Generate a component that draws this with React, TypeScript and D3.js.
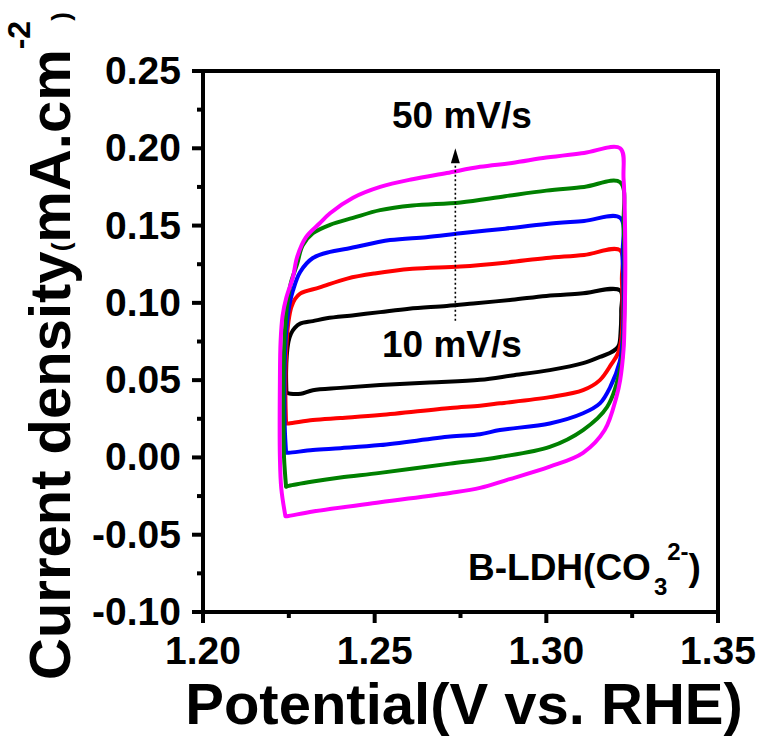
import React from "react";
import * as d3 from "d3";

type Pt = [number, number];

// Scan rates and colours (drawn in this order)
const scanRates = ["10 mV/s", "20 mV/s", "30 mV/s", "40 mV/s", "50 mV/s"];
const seriesColors = ["#000000", "#ff0000", "#0000ff", "#008000", "#ff00ff"];

// [potential (V vs RHE), current density (mA cm^-2)]
const cv10: Pt[] = [
  [1.2243, 0.042], [1.2242, 0.055], [1.2244, 0.066], [1.2249, 0.075], [1.2256, 0.08],
  [1.2268, 0.084], [1.2283, 0.0866], [1.232, 0.0882], [1.236, 0.09], [1.244, 0.092],
  [1.2516, 0.094], [1.26, 0.0962], [1.271, 0.098], [1.2787, 0.0996], [1.29, 0.102],
  [1.3, 0.1045], [1.31, 0.106], [1.3215, 0.108],
  [1.3218, 0.095], [1.3216, 0.08], [1.3212, 0.073], [1.3204, 0.0703], [1.3185, 0.0675],
  [1.3156, 0.065], [1.3107, 0.061], [1.301, 0.0565], [1.29, 0.053], [1.2807, 0.0502],
  [1.266, 0.0485], [1.2516, 0.0468], [1.24, 0.045], [1.232, 0.0435], [1.2285, 0.0412],
  [1.2255, 0.0412], [1.2243, 0.042],
];
const cv20: Pt[] = [
  [1.2242, 0.022], [1.224, 0.04], [1.2241, 0.06], [1.2244, 0.076], [1.2249, 0.088],
  [1.2257, 0.097], [1.2268, 0.1025], [1.2283, 0.106], [1.234, 0.11], [1.242, 0.1157],
  [1.25, 0.119], [1.261, 0.122], [1.275, 0.1235], [1.288, 0.126], [1.3, 0.129],
  [1.311, 0.131], [1.3215, 0.134],
  [1.322, 0.115], [1.3222, 0.09], [1.3218, 0.076], [1.3208, 0.067], [1.319, 0.0605],
  [1.3156, 0.05], [1.3107, 0.0435], [1.301, 0.039], [1.2865, 0.035], [1.2807, 0.0335],
  [1.272, 0.032], [1.2516, 0.0274], [1.24, 0.0255], [1.232, 0.0242], [1.225, 0.022],
  [1.2242, 0.022],
];
const cv30: Pt[] = [
  [1.2242, 0.003], [1.2238, 0.02], [1.2237, 0.045], [1.2239, 0.068], [1.2244, 0.086],
  [1.2252, 0.099], [1.2262, 0.108], [1.2283, 0.12], [1.232, 0.129], [1.237, 0.133],
  [1.242, 0.135], [1.2545, 0.1406], [1.265, 0.1425], [1.275, 0.145], [1.288, 0.148],
  [1.3, 0.151], [1.311, 0.153], [1.3215, 0.155],
  [1.3222, 0.13], [1.3225, 0.1], [1.3222, 0.076], [1.3214, 0.062], [1.3186, 0.0455],
  [1.3156, 0.035], [1.3107, 0.0286], [1.301, 0.022], [1.2865, 0.0177], [1.2807, 0.015],
  [1.272, 0.0135], [1.2516, 0.008], [1.24, 0.006], [1.232, 0.0048], [1.225, 0.003],
  [1.2242, 0.003],
];
const cv40: Pt[] = [
  [1.2242, -0.019], [1.2236, 0.0], [1.2234, 0.03], [1.2235, 0.06], [1.2239, 0.083],
  [1.2246, 0.1], [1.2256, 0.113], [1.2274, 0.125], [1.229, 0.137], [1.232, 0.145],
  [1.237, 0.1505], [1.2437, 0.155], [1.2516, 0.16], [1.261, 0.163], [1.275, 0.165],
  [1.288, 0.169], [1.3, 0.1726], [1.311, 0.175], [1.3215, 0.178],
  [1.3225, 0.15], [1.3228, 0.11], [1.3225, 0.08], [1.3218, 0.06], [1.3177, 0.0326],
  [1.3107, 0.0177], [1.301, 0.0068], [1.2865, 0.0003], [1.2807, -0.0016], [1.272, -0.004],
  [1.2516, -0.01], [1.24, -0.013], [1.232, -0.0156], [1.225, -0.0184], [1.2242, -0.019],
];
const cv50: Pt[] = [
  [1.224, -0.038], [1.2228, -0.02], [1.2224, 0.0], [1.2224, 0.05], [1.2226, 0.075],
  [1.2232, 0.092], [1.2243, 0.1036], [1.2262, 0.1167], [1.2274, 0.1295], [1.23, 0.1425],
  [1.234, 0.1515], [1.237, 0.158], [1.2437, 0.168], [1.2516, 0.175], [1.261, 0.18],
  [1.271, 0.184], [1.2807, 0.188], [1.29, 0.1905], [1.3, 0.194], [1.311, 0.197],
  [1.3215, 0.2],
  [1.3225, 0.18], [1.323, 0.13], [1.3228, 0.09], [1.3225, 0.07], [1.3215, 0.05],
  [1.3204, 0.039], [1.317, 0.0177], [1.3107, 0.003], [1.301, -0.006], [1.2886, -0.0145],
  [1.2807, -0.0197], [1.272, -0.023], [1.2516, -0.029], [1.232, -0.035], [1.2245, -0.038],
  [1.224, -0.038],
];
const allSeries: Pt[][] = [cv10, cv20, cv30, cv40, cv50];

// Axis ticks
const xMajorTicks = [1.2, 1.25, 1.3, 1.35];
const xMinorTicks = [1.225, 1.275, 1.325];
const yMajorTicks = [-0.1, -0.05, 0.0, 0.05, 0.1, 0.15, 0.2, 0.25];
const yMinorTicks = [-0.075, -0.025, 0.025, 0.075, 0.125, 0.175, 0.225];

// Arrow (annotation) in data units
const arrowX = 1.2735;
const arrowFrom = 0.0885;
const arrowTo = 0.2;

const W = 765;
const H = 737;
const FONT = "'Liberation Sans', Arial, Helvetica, sans-serif";

export default function App() {
  const x = d3.scaleLinear().domain([1.2, 1.35]).range([203, 718]);
  const y = d3.scaleLinear().domain([-0.1, 0.25]).range([612, 71]);
  const line = d3
    .line<Pt>()
    .x((d) => x(d[0]))
    .y((d) => y(d[1]))
    .curve(d3.curveCatmullRom.alpha(0.5));

  const ax = x(arrowX);
  const tipY = y(arrowTo);
  const headBase = tipY + 15;

  return (
    <div style={{ position: "absolute", left: 0, top: 0, background: "#fff" }}>
      <svg width={W} height={H} style={{ display: "block", fontFamily: FONT }}>
        <rect x={0} y={0} width={W} height={H} fill="#fff" />
        {/* curves */}
        {allSeries.map((s, i) => (
          <path
            key={scanRates[i]}
            d={line(s) || ""}
            fill="none"
            stroke={seriesColors[i]}
            strokeWidth={4}
            strokeLinejoin="round"
            strokeLinecap="round"
          />
        ))}
        {/* arrow */}
        <line
          x1={ax}
          x2={ax}
          y1={y(arrowFrom)}
          y2={headBase}
          stroke="#000"
          strokeWidth={1.6}
          strokeDasharray="2 2.5"
        />
        <path d={`M${ax},${tipY} L${ax - 4.5},${headBase} L${ax + 4.5},${headBase} Z`} fill="#000" />

        {/* frame */}
        <rect
          x={x(1.2)}
          y={y(0.25)}
          width={x(1.35) - x(1.2)}
          height={y(-0.1) - y(0.25)}
          fill="none"
          stroke="#000"
          strokeWidth={4}
        />
        {/* y ticks */}
        {yMajorTicks.map((t) => (
          <line key={"ym" + t} x1={x(1.2) - 11} x2={x(1.2)} y1={y(t)} y2={y(t)} stroke="#000" strokeWidth={4} />
        ))}
        {yMinorTicks.map((t) => (
          <line key={"yn" + t} x1={x(1.2) - 6} x2={x(1.2)} y1={y(t)} y2={y(t)} stroke="#000" strokeWidth={4} />
        ))}
        {yMajorTicks.map((t) => (
          <text key={"yl" + t} x={181} y={y(t) + 13} textAnchor="end" fontSize={39} fontWeight="bold">
            {d3.format(".2f")(t).replace("\u2212", "-")}
          </text>
        ))}
        {/* x ticks */}
        {xMajorTicks.map((t) => (
          <line key={"xm" + t} x1={x(t)} x2={x(t)} y1={y(-0.1)} y2={y(-0.1) + 11} stroke="#000" strokeWidth={4} />
        ))}
        {xMinorTicks.map((t) => (
          <line key={"xn" + t} x1={x(t)} x2={x(t)} y1={y(-0.1)} y2={y(-0.1) + 6} stroke="#000" strokeWidth={4} />
        ))}
        {xMajorTicks.map((t) => (
          <text key={"xl" + t} x={x(t)} y={664} textAnchor="middle" fontSize={39} fontWeight="bold">
            {d3.format(".2f")(t)}
          </text>
        ))}

        {/* axis titles */}
        <text x={464} y={724} textAnchor="middle" fontSize={58} fontWeight="bold">
          Potential(V vs. RHE)
        </text>
        <text transform="translate(70,680) rotate(-90)" fontSize={58} fontWeight="bold">
          <tspan>Current density</tspan>
          <tspan fontSize={26}>(</tspan>
          <tspan>mA.cm</tspan>
          <tspan fontSize={32} dy={-40}>-2</tspan>
          <tspan fontSize={26} dy={40}>)</tspan>
        </text>

        {/* annotations */}
        <text x={392} y={128} fontSize={37} fontWeight="bold">
          {scanRates[4]}
        </text>
        <text x={382} y={357} fontSize={37} fontWeight="bold">
          {scanRates[0]}
        </text>
        <text x={468} y={580} fontSize={37} fontWeight="bold">
          <tspan>B-LDH(CO</tspan>
          <tspan fontSize={24} dy={15} dx={3}>3</tspan>
          <tspan fontSize={24} dy={-35}>2-</tspan>
          <tspan dy={20}>)</tspan>
        </text>
      </svg>
    </div>
  );
}
